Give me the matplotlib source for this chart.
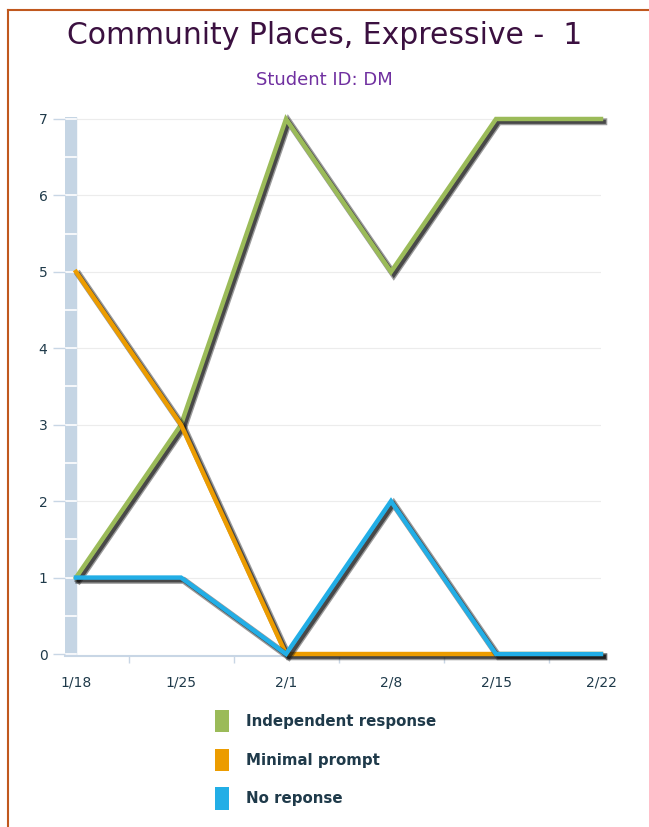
import matplotlib
matplotlib.use('Agg')
import matplotlib.pyplot as plt
import matplotlib.patheffects as pe
from matplotlib.patches import Patch
from matplotlib.lines import Line2D

dates = ['1/18', '1/25', '2/1', '2/8', '2/15', '2/22']
independent = [1, 3, 7, 5, 7, 7]
minimal = [5, 3, 0, 0, 0, 0]
no_response = [1, 1, 0, 2, 0, 0]

series = [
  ('Independent response', independent, '#9bbb59'),
  ('Minimal prompt', minimal, '#ec9c00'),
  ('No reponse', no_response, '#22aee6'),
]

text_col = '#1f3a4a'
axis_col = '#c8d6e5'

fig = plt.figure(figsize=(6.49, 8.27), dpi=100)
fig.patch.set_facecolor('white')

# orange frame on the left and top edge
fig.add_artist(Line2D([8/649, 8/649], [0, 1 - 10/827], color='#c0581e', lw=1.5))
fig.add_artist(Line2D([8/649, 1], [1 - 10/827, 1 - 10/827], color='#c0581e', lw=1.5))

fig.text(0.5, 1 - 36/827, 'Community Places, Expressive -  1', ha='center', va='center',
         fontsize=21.5, color='#3b1040')
fig.text(0.5, 1 - 80/827, 'Student ID: DM', ha='center', va='center',
         fontsize=13, color='#7030a0')

ax = fig.add_axes([65/649, 0.2064, 536/649, 0.6525])
ax.set_xlim(-11/105, 5)
ax.set_ylim(-0.03, 7.03)

# left axis bar with white separators
ax.axvspan(-11/105, 0, color='#c5d5e4', zorder=1)
for k in range(15):
  ax.plot([-11/105, 0], [k*0.5, k*0.5], color='white', lw=1.2, zorder=1.5)

for y in range(1, 8):
  ax.axhline(y, color='#ececec', lw=0.8, zorder=0)

x = list(range(len(dates)))
for name, vals, col in series:
  ax.plot(x, vals, color=col, lw=3.2, solid_joinstyle='miter', clip_on=False, zorder=3,
          path_effects=[pe.SimpleLineShadow(offset=(2, -2), shadow_color='#222222', alpha=0.45, linewidth=5),
                        pe.SimpleLineShadow(offset=(2, -2), shadow_color='#111111', alpha=0.6, linewidth=3),
                        pe.Normal()])

for s in ['top', 'right', 'left']:
  ax.spines[s].set_visible(False)
ax.spines['bottom'].set_color(axis_col)
ax.spines['bottom'].set_linewidth(1.5)

ax.set_yticks(range(8))
ax.tick_params(axis='y', length=8.6, width=1, color=axis_col, pad=4, labelsize=10, labelcolor=text_col)
ax.set_xticks(x)
ax.set_xticklabels(dates)
ax.set_xticks([i + 0.5 for i in range(5)], minor=True)
ax.tick_params(axis='x', which='major', length=0, pad=14, labelsize=10, labelcolor=text_col)
ax.tick_params(axis='x', which='minor', length=5, width=1, color=axis_col)

handles = [Patch(facecolor=col, edgecolor='none', label=name) for name, vals, col in series]
fig.legend(handles=handles, loc='upper left', bbox_to_anchor=(215/649, 1 - 710/827),
           frameon=False, handlelength=0.95, handleheight=1.9, handletextpad=1.1,
           labelspacing=1.1, borderpad=0, borderaxespad=0,
           prop={'size': 10.8, 'weight': 'bold'}, labelcolor=text_col)

fig.savefig('out.png', dpi=100, facecolor='white')
